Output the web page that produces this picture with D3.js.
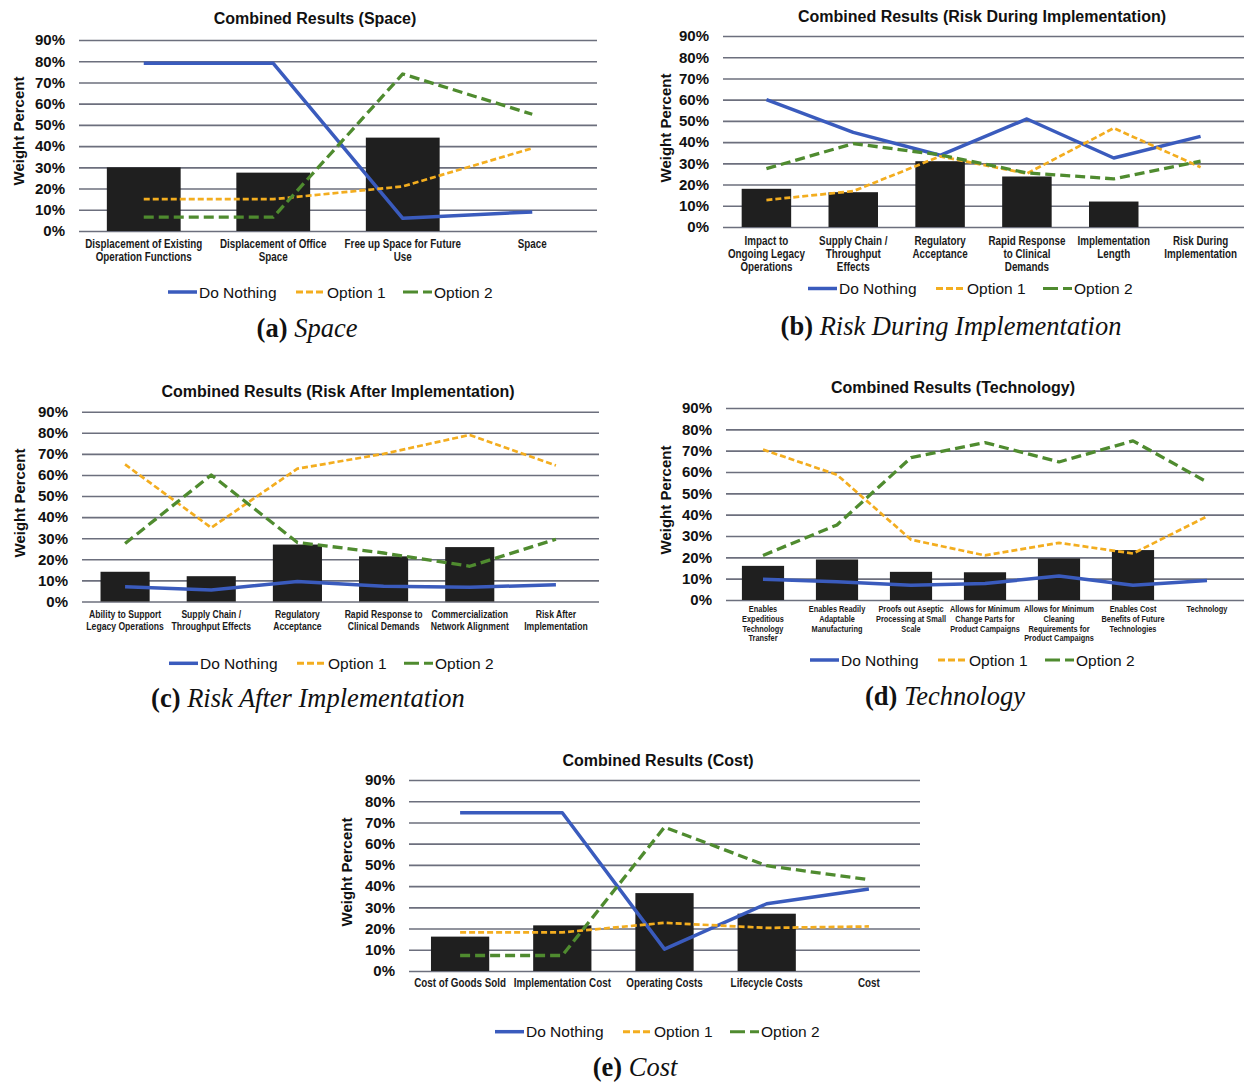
<!DOCTYPE html>
<html>
<head>
<meta charset="utf-8">
<script src="https://cdn.jsdelivr.net/npm/d3@7"></script>
<style>
  html, body { margin: 0; padding: 0; background: #fff; }
  svg { display: block; }
</style>
</head>
<body>
<svg id="fig" width="1244" height="1083"></svg>
<script>
// ---------- shared axis / legend data ----------
const yTicks = [0, 10, 20, 30, 40, 50, 60, 70, 80, 90];
const seriesNames = ["Do Nothing", "Option 1", "Option 2"];

// ---------- (a) Space ----------
const spaceCategories = ["Displacement of Existing\nOperation Functions", "Displacement of Office\nSpace", "Free up Space for Future\nUse", "Space"];
const spaceWeights   = [30, 27.5, 44, null];
const spaceDoNothing = [79, 79, 6, 9];
const spaceOption1   = [15, 15, 21, 39];
const spaceOption2   = [6.5, 6.5, 74, 55];

// ---------- (b) Risk During Implementation ----------
const riskDuringCategories = ["Impact to\nOngoing Legacy\nOperations", "Supply Chain /\nThroughput\nEffects", "Regulatory\nAcceptance", "Rapid Response\nto Clinical\nDemands", "Implementation\nLength", "Risk During\nImplementation"];
const riskDuringWeights   = [18, 16.4, 31, 23.8, 12, null];
const riskDuringDoNothing = [60, 44.6, 33.8, 50.9, 32.5, 42.7];
const riskDuringOption1   = [12.7, 16.9, 33.3, 25.2, 46.6, 28.2];
const riskDuringOption2   = [27.5, 39.3, 34, 25.5, 22.7, 31];

// ---------- (c) Risk After Implementation ----------
const riskAfterCategories = ["Ability to Support\nLegacy Operations", "Supply Chain /\nThroughput Effects", "Regulatory\nAcceptance", "Rapid Response to\nClinical Demands", "Commercialization\nNetwork Alignment", "Risk After\nImplementation"];
const riskAfterWeights   = [14.1, 12, 27, 21.4, 25.8, null];
const riskAfterDoNothing = [7, 5.5, 9.5, 7.2, 6.7, 8];
const riskAfterOption1   = [65, 35, 63, 70, 79, 64.5];
const riskAfterOption2   = [27.5, 60, 28, 23, 16.7, 29.5];

// ---------- (d) Technology ----------
const technologyCategories = ["Enables\nExpeditious\nTechnology\nTransfer", "Enables Readily\nAdaptable\nManufacturing", "Proofs out Aseptic\nProcessing at Small\nScale", "Allows for Minimum\nChange Parts for\nProduct Campaigns", "Allows for Minimum\nCleaning\nRequirements for\nProduct Campaigns", "Enables Cost\nBenefits of Future\nTechnologies", "Technology"];
const technologyWeights   = [16, 19, 13.2, 13, 19.5, 23.4, null];
const technologyDoNothing = [9.7, 8.5, 6.9, 7.7, 11.3, 6.9, 9.1];
const technologyOption1   = [70.5, 58.7, 28.3, 20.9, 26.8, 21.8, 39.2];
const technologyOption2   = [20.9, 35.2, 66.7, 73.8, 64.7, 74.6, 55.3];

// ---------- (e) Cost ----------
const costCategories = ["Cost of Goods Sold", "Implementation Cost", "Operating Costs", "Lifecycle Costs", "Cost"];
const costWeights   = [16.2, 21.5, 36.7, 27, null];
const costDoNothing = [74.6, 74.6, 10.3, 31.7, 38.6];
const costOption1   = [18.2, 18.2, 22.7, 20.3, 21];
const costOption2   = [7.3, 7.3, 67.8, 49.6, 43];

// ---------- styling ----------
const SANS = "'Liberation Sans', Arial, sans-serif";
const SERIF = "'Liberation Serif', 'Times New Roman', serif";
const GRID = "#6c6f7d";
const BAR = "#1f1f1f";
const seriesStyle = [
  { color: "#3a5bbd", width: 3.5, dash: null,   legendDash: null },
  { color: "#f3ad1f", width: 2.7, dash: "6,3",  legendDash: "7,3" },
  { color: "#4f8b2f", width: 3.3, dash: "10,5", legendDash: "15,5" }
];
const legendOffsets = [0, 128, 235];

const panels = [
  { title: "Combined Results (Space)", tag: "(a)", caption: "Space",
    categories: spaceCategories, weights: spaceWeights,
    series: [spaceDoNothing, spaceOption1, spaceOption2],
    L: { x0: 79, x1: 597, y0: 231, y90: 40, titleX: 315, titleY: 24,
         labelY: 248, labelStep: 12.5, labelSize: 12,
         legendX: 168, legendY: 292, capX: 307, capY: 337, yTitleX: 23.5, yTitleY: 131 } },
  { title: "Combined Results (Risk During Implementation)", tag: "(b)", caption: "Risk During Implementation",
    categories: riskDuringCategories, weights: riskDuringWeights,
    series: [riskDuringDoNothing, riskDuringOption1, riskDuringOption2],
    L: { x0: 723, x1: 1244, y0: 227, y90: 36, titleX: 982, titleY: 22,
         labelY: 244.5, labelStep: 13, labelSize: 12,
         legendX: 808, legendY: 288.5, capX: 951, capY: 335, yTitleX: 670.5, yTitleY: 128 } },
  { title: "Combined Results (Risk After Implementation)", tag: "(c)", caption: "Risk After Implementation",
    categories: riskAfterCategories, weights: riskAfterWeights,
    series: [riskAfterDoNothing, riskAfterOption1, riskAfterOption2],
    L: { x0: 82, x1: 599, y0: 601.5, y90: 411.7, titleX: 338, titleY: 396.5,
         labelY: 618, labelStep: 11.5, labelSize: 10.5,
         legendX: 169, legendY: 663.3, capX: 308, capY: 707, yTitleX: 25, yTitleY: 503 } },
  { title: "Combined Results (Technology)", tag: "(d)", caption: "Technology",
    categories: technologyCategories, weights: technologyWeights,
    series: [technologyDoNothing, technologyOption1, technologyOption2],
    L: { x0: 726, x1: 1244, y0: 600, y90: 408, titleX: 953, titleY: 393,
         labelY: 612.3, labelStep: 9.6, labelSize: 9,
         legendX: 810, legendY: 660, capX: 945, capY: 705, yTitleX: 671, yTitleY: 500 } },
  { title: "Combined Results (Cost)", tag: "(e)", caption: "Cost",
    categories: costCategories, weights: costWeights,
    series: [costDoNothing, costOption1, costOption2],
    L: { x0: 409, x1: 920, y0: 971, y90: 780, titleX: 658, titleY: 765.5,
         labelY: 987.3, labelStep: 12.5, labelSize: 12,
         legendX: 495, legendY: 1031.7, capX: 635, capY: 1076, yTitleX: 352, yTitleY: 872 } }
];

const svg = d3.select("#fig");
svg.append("rect").attr("width", 1244).attr("height", 1083).attr("fill", "#fff");

function drawPanel(p) {
  const L = p.L;
  const g = svg.append("g");
  const idx = d3.range(p.categories.length);

  const x = d3.scaleBand().domain(idx).range([L.x0, L.x1])
    .paddingInner(0.43).paddingOuter(0.215);
  const y = d3.scaleLinear().domain([0, 90]).range([L.y0, L.y90]);
  const cx = i => x(i) + x.bandwidth() / 2;

  // horizontal gridlines
  g.append("g")
    .attr("transform", `translate(${L.x0},0)`)
    .call(d3.axisLeft(y).tickValues(yTicks).tickSize(-(L.x1 - L.x0)).tickFormat(""))
    .call(a => a.select(".domain").remove())
    .call(a => a.selectAll("line").attr("stroke", GRID).attr("stroke-width", 1.6));

  // y tick labels
  g.append("g")
    .attr("transform", `translate(${L.x0},0)`)
    .call(d3.axisLeft(y).tickValues(yTicks).tickSize(0).tickPadding(14).tickFormat(d => d + "%"))
    .call(a => a.select(".domain").remove())
    .call(a => a.selectAll("text")
      .attr("font-family", SANS).attr("font-size", 15).attr("font-weight", "bold").attr("fill", "#111"));

  // weight bars
  g.append("g").selectAll("rect")
    .data(p.weights.map((v, i) => ({ v, i })).filter(d => d.v != null))
    .join("rect")
    .attr("x", d => x(d.i))
    .attr("width", x.bandwidth())
    .attr("y", d => y(d.v))
    .attr("height", d => y(0) - y(d.v))
    .attr("fill", BAR);

  // series lines
  const line = d3.line().x((d, i) => cx(i)).y(d => y(d));
  p.series.forEach((vals, s) => {
    const st = seriesStyle[s];
    g.append("path")
      .attr("d", line(vals))
      .attr("fill", "none")
      .attr("stroke", st.color)
      .attr("stroke-width", st.width)
      .attr("stroke-linejoin", "round")
      .attr("stroke-dasharray", st.dash);
  });

  // category labels (condensed bold)
  const lab = g.append("g")
    .attr("font-family", SANS).attr("font-weight", "bold")
    .attr("font-size", L.labelSize).attr("fill", "#1a1a1a").attr("text-anchor", "middle");
  p.categories.forEach((label, i) => {
    label.split("\n").forEach((ln, k) => {
      lab.append("text")
        .attr("transform", `translate(${cx(i)},${L.labelY + k * L.labelStep}) scale(0.82,1)`)
        .text(ln);
    });
  });

  // chart title
  g.append("text")
    .attr("x", L.titleX).attr("y", L.titleY)
    .attr("text-anchor", "middle")
    .attr("font-family", SANS).attr("font-weight", "bold").attr("font-size", 16).attr("fill", "#111")
    .text(p.title);

  // y axis title
  g.append("text")
    .attr("transform", `translate(${L.yTitleX},${L.yTitleY}) rotate(-90)`)
    .attr("text-anchor", "middle")
    .attr("font-family", SANS).attr("font-weight", "bold").attr("font-size", 15).attr("fill", "#111")
    .text("Weight Percent");

  // legend
  seriesNames.forEach((name, s) => {
    const st = seriesStyle[s];
    const lx = L.legendX + legendOffsets[s];
    g.append("line")
      .attr("x1", lx).attr("x2", lx + 29)
      .attr("y1", L.legendY).attr("y2", L.legendY)
      .attr("stroke", st.color).attr("stroke-width", s === 0 ? 3.5 : 3)
      .attr("stroke-dasharray", st.legendDash);
    g.append("text")
      .attr("x", lx + 31).attr("y", L.legendY + 5.6)
      .attr("font-family", SANS).attr("font-size", 15.5).attr("fill", "#111")
      .text(name);
  });

  // sub-figure caption
  const cap = g.append("text")
    .attr("x", L.capX).attr("y", L.capY)
    .attr("text-anchor", "middle")
    .attr("font-family", SERIF).attr("font-size", 26.5).attr("fill", "#111");
  cap.append("tspan").attr("font-weight", "bold").text(p.tag);
  cap.append("tspan").attr("font-style", "italic").text(" " + p.caption);
}

panels.forEach(drawPanel);
</script>
</body>
</html>
